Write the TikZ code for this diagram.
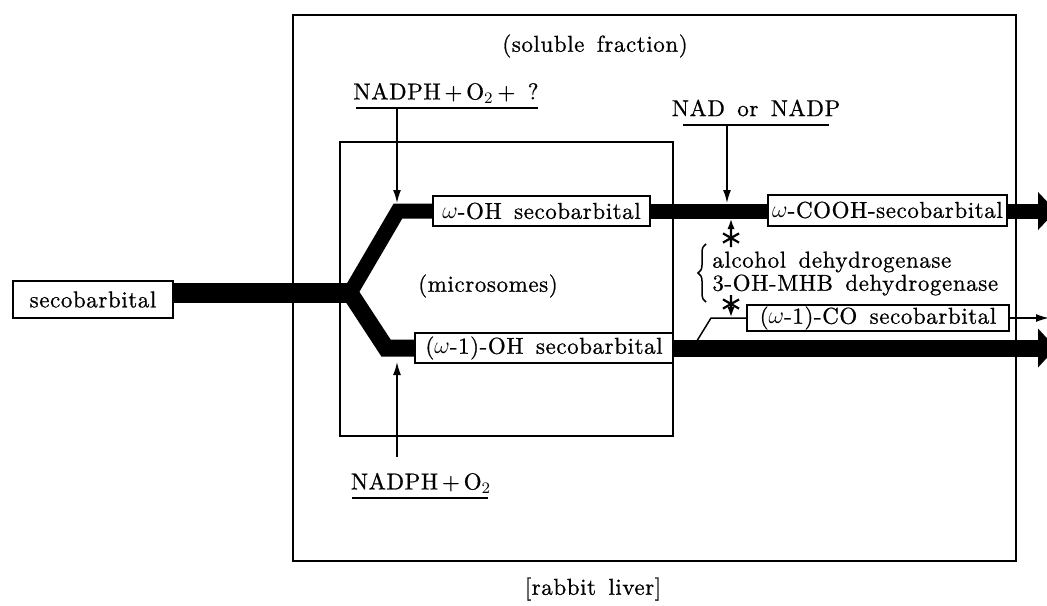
\documentclass[tikz,border=0pt]{standalone}
\usepackage{fontspec}
\setmainfont{lmroman10-regular.otf}[LetterSpace=2.5, WordSpace=1.5, FakeBold=0.8]
\usetikzlibrary{arrows.meta,decorations.pathreplacing}
\begin{document}
\begin{tikzpicture}[x=0.5pt,y=-0.5pt,
  txt/.style={font=\fontsize{11.5}{14}\selectfont, inner sep=0pt},
  box/.style={txt, draw, line width=1pt, fill=white, inner sep=0pt},
  bar/.style={line width=#1, line join=miter},
  thin/.style={line width=0.75pt},
  tip/.style={-{Latex[length=6.5pt,width=4pt]}},
  smalltip/.style={-{Latex[length=5pt,width=3.6pt]}},
  bigtip/.style={-{Triangle[length=9pt,width=#1]}},
  starmark/.pic={\draw[line width=1.1pt] (0,-9) -- (0,9) (-8,-4.6) -- (8,4.6) (-8,4.6) -- (8,-4.6);}]
\useasboundingbox (0,0) rectangle (1047,605);

% cell compartments
\draw[line width=1.3pt] (293,15) rectangle (1016,561);
\draw[line width=0.6pt] (340,142) rectangle (673,436);
\node[txt] (soluble) at (595,46) {(soluble fraction)};
\node[txt] (micro) at (488,286) {(microsomes)};
\node[txt] (liver) at (593,589) {[rabbit liver]};

% compounds
\node[box, minimum width=80pt, minimum height=18.5pt] (seco) at (93,299.5) {secobarbital};
\node[box, minimum width=108.5pt, minimum height=15pt] (woh) at (541.5,211) {$\omega$-OH secobarbital};
\node[box, minimum width=119.5pt, minimum height=15.5pt] (wcooh) at (887.5,210) {$\omega$-COOH-secobarbital};
\node[box, minimum width=129pt, minimum height=15pt] (w1oh) at (544,348) {($\omega$-1)-OH secobarbital};
\node[box, minimum width=131pt, minimum height=13pt] (w1co) at (878,318) {($\omega$-1)-CO secobarbital};

% main metabolic routes
\coordinate (fork) at (350,293);
\coordinate (forkend) at (357,293);
\coordinate (upbend) at (398,211);
\coordinate (lowbend) at (386,348);
\coordinate (outA) at (1056,211);
\coordinate (outB) at (1056,348);
\draw[bar=10pt] (seco.east |- fork) -- (forkend);
\draw[bar=7.5pt] (fork) -- (upbend) -- (woh.west);
\draw[bar=8.5pt] (fork) -- (lowbend) -- (w1oh.west);
\draw[bar=7.5pt] (woh.east) -- (wcooh.west |- woh.east);
\draw[bar=7.5pt, bigtip=18.5pt] (wcooh.east |- outA) -- (outA);
\draw[bar=8.5pt, bigtip=19pt] (w1oh.east) -- (outB);

% minor route to the ketone
\coordinate (cobase) at (695,344);
\coordinate (cobend) at (711,318);
\coordinate (outC) at (1049,318);
\draw[thin] (cobase) -- (cobend) -- (w1co.west);
\draw[thin, tip] (w1co.east) -- (outC);

% cofactors
\node[txt] (cof1) at (446,93) {NADPH\,+\,O$_2$\,+ ?};
\coordinate (u1a) at (356,108);
\coordinate (u1b) at (538,108);
\draw[thin] (u1a) -- (u1b);
\coordinate (c1s) at (397,108);
\coordinate (c1e) at (397,203);
\draw[thin, tip] (c1s) -- (c1e);

\node[txt] (cof2) at (756,108) {NAD or NADP};
\coordinate (u2a) at (683,125);
\coordinate (u2b) at (829,125);
\draw[thin] (u2a) -- (u2b);
\coordinate (c2s) at (727,125);
\coordinate (c2e) at (727,203);
\draw[thin, tip] (c2s) -- (c2e);

\node[txt] (cof3) at (421,483) {NADPH\,+\,O$_2$};
\coordinate (u3a) at (352,498);
\coordinate (u3b) at (488,498);
\draw[thin] (u3a) -- (u3b);
\coordinate (c3s) at (397,457);
\coordinate (c3e) at (397,362);
\draw[thin, tip] (c3s) -- (c3e);

% enzymes
\coordinate (s1) at (731,238);
\coordinate (s1e) at (731,219);
\coordinate (s2) at (731,304);
\coordinate (s2e) at (731,317);
\pic at (s1) {starmark};
\pic at (s2) {starmark};
\draw[thin, smalltip] (s1) -- (s1e);
\draw[thin, smalltip] (s2) -- (s2e);
\coordinate (bra) at (706,244);
\coordinate (brb) at (706,302);
\draw[thin, decorate, decoration={brace, amplitude=4pt, mirror}] (bra) -- (brb);
\node[txt, anchor=west] (adh) at (712,262) {alcohol dehydrogenase};
\node[txt, anchor=west] (hmb) at (712,285) {3-OH-MHB dehydrogenase};
\end{tikzpicture}
\end{document}
